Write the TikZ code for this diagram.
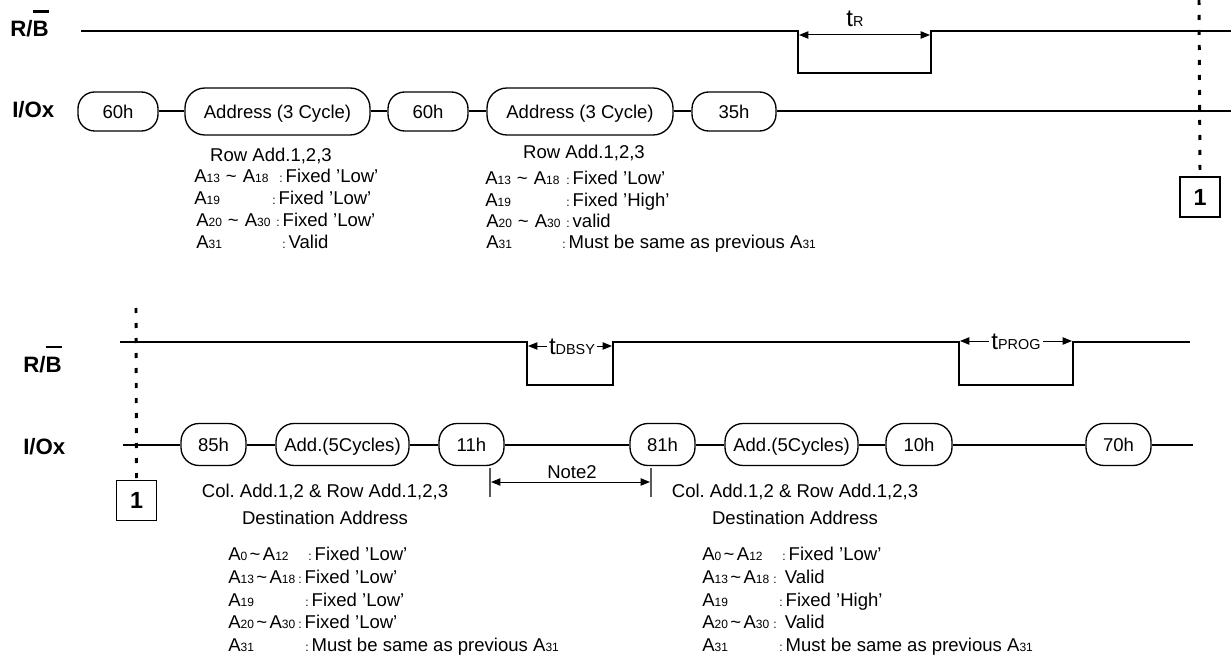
\documentclass[tikz,border=0pt]{standalone}
\usepackage{fontspec}
\setmainfont{Liberation Sans}
\usetikzlibrary{arrows.meta}

\newcommand{\bodysize}{\fontsize{13.9}{16}\selectfont}
\newcommand{\pinsize}{\fontsize{9}{10}\selectfont}
\newcommand{\Apin}[1]{A{\pinsize #1}}
\newcommand{\Arange}[3]{A{\pinsize #2}\hspace{#1}\textasciitilde\hspace{#1}A{\pinsize #3}}
\newcommand{\pincolon}{{\pinsize :}\,}
\newcommand{\tparam}[1]{{\fontsize{18}{20}\selectfont t}{\fontsize{10.8}{13}\selectfont #1}}
\newcommand{\Bbar}{\rlap{\rule[1.07em]{0.74em}{0.12em}}B}

\tikzset{
    sig/.style={line width=1.5pt},
    cmdbox/.style={draw, line width=1pt, rounded corners=12.5pt,
        minimum height=29.25pt, inner sep=0pt, font=\bodysize,
        text height=10pt, text depth=0pt},
    addrbox/.style={cmdbox, rounded corners=15pt, minimum height=35.25pt},
    cmdlow/.style={cmdbox, rounded corners=13.5pt, minimum height=31.5pt},
    signame/.style={anchor=base west, inner sep=0pt,
        font={\fontsize{16.7}{19}\selectfont\bfseries}},
    txt/.style={anchor=base west, inner sep=0pt, font=\bodysize},
    ctxt/.style={anchor=base, inner sep=0pt, font=\bodysize},
    dim/.style={{Triangle[length=7pt,width=5.5pt]}-{Triangle[length=7pt,width=5.5pt]},
        line width=0.75pt},
    dimlabel/.style={anchor=base, fill=white, inner xsep=1.5pt, inner ysep=0pt},
    markbox/.style={draw, line width=1.2pt, minimum size=30pt, inner sep=0pt,
        font={\fontsize{17.5}{20}\selectfont\bfseries}},
    dotline/.style={line width=2.2pt, dash pattern=on 3.75pt off 7.5pt},
    tick/.style={line width=1pt, black!65}
}

\begin{document}
\frenchspacing
\begin{tikzpicture}[x=0.75pt, y=-0.75pt]
    \useasboundingbox (0,0) rectangle (1231,659);

    % signal names
    \node [signame] (rbTop) at (10,37) {R/\Bbar};
    \node [signame] (ioTop) at (12,118) {I/Ox};
    \node [signame] (rbBot) at (23,372) {R/\Bbar};
    \node [signame] (ioBot) at (23,454) {I/Ox};

    % first part: read for copy
    \draw [sig]
        (81,31) -- (798,31) -- (798,73) -- (931,73) -- (931,31) -- (1231,31)
        ;
    \draw [dim] (799,35) -- (930,35);
    \node [anchor=base, inner sep=0pt] (tRlbl) at (855,27) {\tparam{R}};

    \node [cmdbox, minimum width=60pt] (n60a) at (118,111.5) {60h};
    \node [addrbox, minimum width=138.75pt] (addr1) at (277.5,111.5) {Address (3 Cycle)};
    \node [cmdbox, minimum width=60pt] (n60b) at (428,111.5) {60h};
    \node [addrbox, minimum width=139.5pt] (addr2) at (580,111.5) {Address (3 Cycle)};
    \node [cmdbox, minimum width=63pt] (n35) at (734,111.5) {35h};
    \coordinate (ioTopEnd) at (1231,111.5);
    \draw [sig] (n60a) -- (addr1) -- (n60b) -- (addr2) -- (n35) -- (ioTopEnd);

    \node [markbox] (mark1top) at (1200,197) {1};
    \draw [dotline] (1199,0) -- (mark1top.north);

    \node [ctxt] (tlHead) at (271,162) {Row Add.1,2,3};
    \node [txt] (tlA1) at (194,183) {\Arange{4.5pt}{13}{18}};
    \node [txt] (tlV1) at (279,183) {\pincolon Fixed 'Low'};
    \node [txt] (tlA2) at (194,205) {\Apin{19}};
    \node [txt] (tlV2) at (272,205) {\pincolon Fixed 'Low'};
    \node [txt] (tlA3) at (196,227) {\Arange{4.5pt}{20}{30}};
    \node [txt] (tlV3) at (276,227) {\pincolon Fixed 'Low'};
    \node [txt] (tlA4) at (196,248) {\Apin{31}};
    \node [txt] (tlV4) at (282,248) {\pincolon Valid};

    \node [ctxt] (trHead) at (584,159) {Row Add.1,2,3};
    \node [txt] (trA1) at (485,185) {\Arange{4.5pt}{13}{18}};
    \node [txt] (trV1) at (566,185) {\pincolon Fixed 'Low'};
    \node [txt] (trA2) at (485,207) {\Apin{19}};
    \node [txt] (trV2) at (566,207) {\pincolon Fixed 'High'};
    \node [txt] (trA3) at (486,228) {\Arange{4.5pt}{20}{30}};
    \node [txt] (trV3) at (566,228) {\pincolon valid};
    \node [txt] (trA4) at (486,249) {\Apin{31}};
    \node [txt] (trV4) at (562,249) {\pincolon Must be same as previous \Apin{31}};

    % second part: copy back program
    \draw [sig]
        (120,342) -- (527,342) -- (527,385) -- (613,385) -- (613,342)
        -- (959,342) -- (959,385) -- (1073,385) -- (1073,342) -- (1190,342)
        ;
    \draw [dim] (528,346) -- (612,346);
    \node [dimlabel] (tDBSYlbl) at (572,354) {\tparam{DBSY}};
    \draw [dim] (960,341) -- (1072,341);
    \node [dimlabel] (tPROGlbl) at (1016,349) {\tparam{PROG}};

    \coordinate (ioBotStart) at (123,444.5);
    \node [cmdlow, minimum width=48.75pt] (n85) at (213.5,444.5) {85h};
    \node [cmdlow, minimum width=99.75pt] (add1) at (342.5,444.5) {Add.(5Cycles)};
    \node [cmdlow, minimum width=48.75pt] (n11) at (471.5,444.5) {11h};
    \node [cmdlow, minimum width=48.75pt] (n81) at (662.5,444.5) {81h};
    \node [cmdlow, minimum width=99.75pt] (add2) at (791.5,444.5) {Add.(5Cycles)};
    \node [cmdlow, minimum width=49.5pt] (n10) at (919,444.5) {10h};
    \node [cmdlow, minimum width=48.75pt] (n70) at (1118.5,444.5) {70h};
    \coordinate (ioBotEnd) at (1193,444.5);
    \draw [sig] (ioBotStart) -- (n85) -- (add1) -- (n11) -- (n81) -- (add2)
        -- (n10) -- (n70) -- (ioBotEnd);

    \node [markbox] (mark1bot) at (136.5,500.5) {1};
    \draw [dotline] (136,308) -- (mark1bot.north);

    \draw [tick] (490,468) -- (490,497) (651,468) -- (651,497);
    \draw [dim] (491,482) -- (650,482);
    \node [ctxt] (note2) at (572,478) {Note2};

    \node [ctxt] (blHead) at (325,497) {Col. Add.1,2 \& Row Add.1,2,3};
    \node [ctxt] (blDest) at (325,524) {Destination Address};
    \node [txt] (blA1) at (228,560) {\Arange{1.8pt}{0}{12}};
    \node [txt] (blV1) at (308,560) {\pincolon Fixed 'Low'};
    \node [txt] (blA2) at (228,583) {\Arange{1.8pt}{13}{18}};
    \node [txt] (blV2) at (298,583) {\pincolon Fixed 'Low'};
    \node [txt] (blA3) at (228,606) {\Apin{19}};
    \node [txt] (blV3) at (305,606) {\pincolon Fixed 'Low'};
    \node [txt] (blA4) at (228,628) {\Arange{1.8pt}{20}{30}};
    \node [txt] (blV4) at (298,628) {\pincolon Fixed 'Low'};
    \node [txt] (blA5) at (228,651) {\Apin{31}};
    \node [txt] (blV5) at (305,651) {\pincolon Must be same as previous \Apin{31}};

    \node [ctxt] (brHead) at (795,497) {Col. Add.1,2 \& Row Add.1,2,3};
    \node [ctxt] (brDest) at (795,524) {Destination Address};
    \node [txt] (brA1) at (702,560) {\Arange{1.8pt}{0}{12}};
    \node [txt] (brV1) at (782,560) {\pincolon Fixed 'Low'};
    \node [txt] (brA2) at (702,583) {\Arange{1.8pt}{13}{18}};
    \node [txt] (brV2) at (773,583) {\pincolon\ Valid};
    \node [txt] (brA3) at (702,606) {\Apin{19}};
    \node [txt] (brV3) at (779,606) {\pincolon Fixed 'High'};
    \node [txt] (brA4) at (702,628) {\Arange{1.8pt}{20}{30}};
    \node [txt] (brV4) at (773,628) {\pincolon\ Valid};
    \node [txt] (brA5) at (702,651) {\Apin{31}};
    \node [txt] (brV5) at (779,651) {\pincolon Must be same as previous \Apin{31}};
\end{tikzpicture}
\end{document}
